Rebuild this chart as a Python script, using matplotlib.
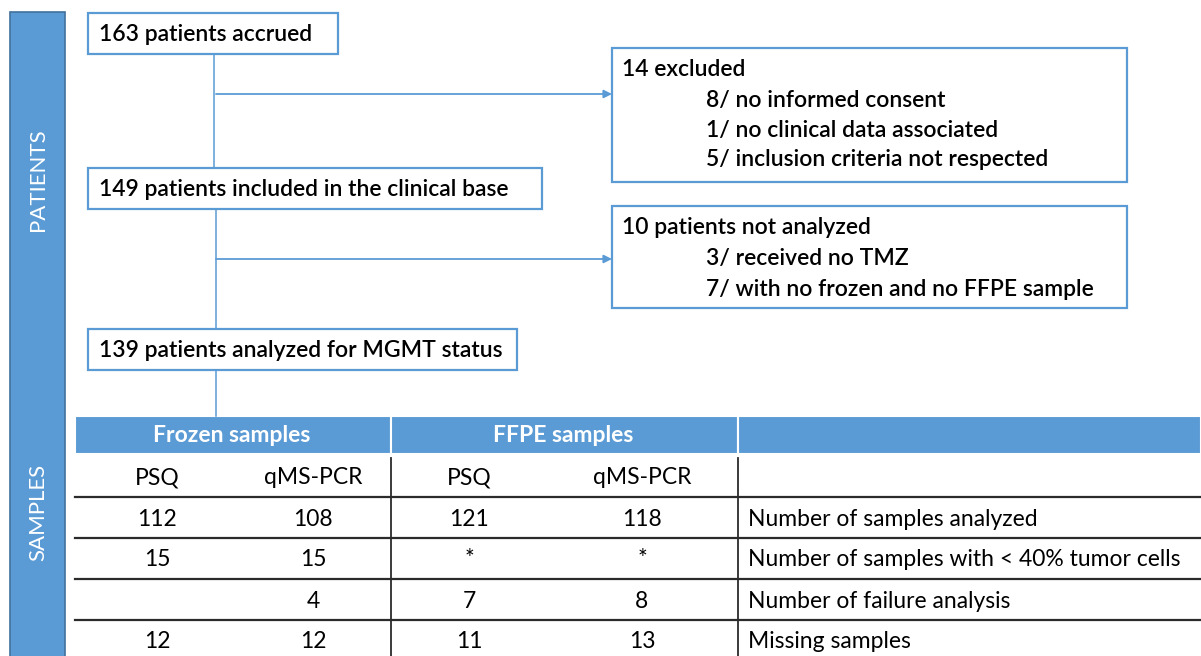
import matplotlib
matplotlib.use("Agg")
import matplotlib.pyplot as plt
from matplotlib.patches import Rectangle, FancyArrowPatch

# ---- data ----
flow_main = ["163 patients accrued",
             "149 patients included in the clinical base",
             "139 patients analyzed for MGMT status"]
excluded_title = "14 excluded"
excluded_items = ["8/ no informed consent",
                  "1/ no clinical data associated",
                  "5/ inclusion criteria not respected"]
notanalyzed_title = "10 patients not analyzed"
notanalyzed_items = ["3/ received no TMZ",
                     "7/ with no frozen and no FFPE sample"]
section_labels = ["PATIENTS", "SAMPLES"]
group_headers = ["Frozen samples", "FFPE samples", ""]
methods = ["PSQ", "qMS-PCR", "PSQ", "qMS-PCR"]
row_labels = ["Number of samples analyzed",
              "Number of samples with < 40% tumor cells",
              "Number of failure analysis",
              "Missing samples"]
frozen_psq = ["112", "15", "", "12"]
frozen_qms = ["108", "15", "4", "12"]
ffpe_psq = ["121", "*", "7", "11"]
ffpe_qms = ["118", "*", "8", "13"]

# ---- style ----
BLUE = "#5B9BD5"
DARK = "#41719C"
FONT = "Lato"

W, H = 1201, 656
fig = plt.figure(figsize=(W / 100, H / 100), dpi=100)
ax = fig.add_axes([0, 0, 1, 1])
ax.set_xlim(0, W)
ax.set_ylim(H, 0)
ax.axis("off")

# left section bar
ax.add_patch(Rectangle((10, 12), 55, 700, facecolor=BLUE, edgecolor=DARK, lw=1.2))
ax.text(38, 180, section_labels[0], rotation=90, color="white", ha="center",
        va="center", fontsize=16, family=FONT)
ax.text(38, 512, section_labels[1], rotation=90, color="white", ha="center",
        va="center", fontsize=16, family=FONT)

def box(x0, y0, x1, y1):
    ax.add_patch(Rectangle((x0, y0), x1 - x0, y1 - y0, facecolor="white",
                           edgecolor=BLUE, lw=1.6, zorder=3))

BOXFS = 16.5
# main boxes
main_boxes = [(88, 13, 338, 54), (88, 168, 542, 209), (88, 329, 517, 370)]
for (x0, y0, x1, y1), t in zip(main_boxes, flow_main):
    box(x0, y0, x1, y1)
    ax.text(x0 + 11, (y0 + y1) / 2 + 1, t, ha="left", va="center",
            fontsize=BOXFS, family=FONT, fontweight="semibold", zorder=4)

# connectors
ax.plot([214, 214], [54, 168], color=BLUE, lw=1.1, zorder=2)
ax.plot([216, 216], [209, 329], color=BLUE, lw=1.1, zorder=2)
ax.plot([216, 216], [370, 416], color=BLUE, lw=1.1, zorder=2)
for y in (94, 259):
    ax.add_patch(FancyArrowPatch((216, y), (612, y), arrowstyle="-|>",
                                 mutation_scale=12, color=BLUE, lw=1.3,
                                 shrinkA=0, shrinkB=0, zorder=2))

# side boxes
box(612, 48, 1127, 182)
ax.text(622, 70, excluded_title, ha="left", va="center", fontsize=BOXFS,
        family=FONT, fontweight="semibold", zorder=4)
for i, t in enumerate(excluded_items):
    ax.text(706, 100 + 30 * i, t, ha="left", va="center", fontsize=BOXFS,
            family=FONT, fontweight="semibold", zorder=4)

box(612, 206, 1127, 308)
ax.text(622, 228, notanalyzed_title, ha="left", va="center", fontsize=BOXFS,
        family=FONT, fontweight="semibold", zorder=4)
for i, t in enumerate(notanalyzed_items):
    ax.text(706, 258 + 31 * i, t, ha="left", va="center", fontsize=BOXFS,
            family=FONT, fontweight="semibold", zorder=4)

# ---- table ----
tx0, tx1 = 75, 1201
col_edges = [75, 391, 738, 1201]
hy0, hy1 = 416, 454
for i in range(3):
    ax.add_patch(Rectangle((col_edges[i], hy0), col_edges[i + 1] - col_edges[i],
                           hy1 - hy0, facecolor=BLUE, edgecolor="white", lw=1.5))
    if group_headers[i]:
        ax.text((col_edges[i] + col_edges[i + 1]) / 2 - 1, (hy0 + hy1) / 2,
                group_headers[i], color="white", ha="center", va="center",
                fontsize=16.5, fontweight="bold", family=FONT)

col_centers = [157, 313, 469, 642]
TFS = 16.5
row_y = [478, 519, 559, 601, 642]
for c, m in zip(col_centers, methods):
    ax.text(c, row_y[0], m, ha="center", va="center", fontsize=TFS, family=FONT)

cols = [frozen_psq, frozen_qms, ffpe_psq, ffpe_qms]
for r in range(len(row_labels)):
    y = row_y[r + 1]
    for c, vals in zip(col_centers, cols):
        ax.text(c, y, vals[r], ha="center", va="center", fontsize=TFS, family=FONT)
    ax.text(748, y, row_labels[r], ha="left", va="center", fontsize=TFS, family=FONT)

for y in (497, 538, 579, 620):
    ax.plot([tx0, tx1], [y, y], color="#2b2b2b", lw=1.6)
for x in (391, 738):
    ax.plot([x, x], [458, 660], color="#2b2b2b", lw=1.3)

fig.savefig("out.png", dpi=100)
